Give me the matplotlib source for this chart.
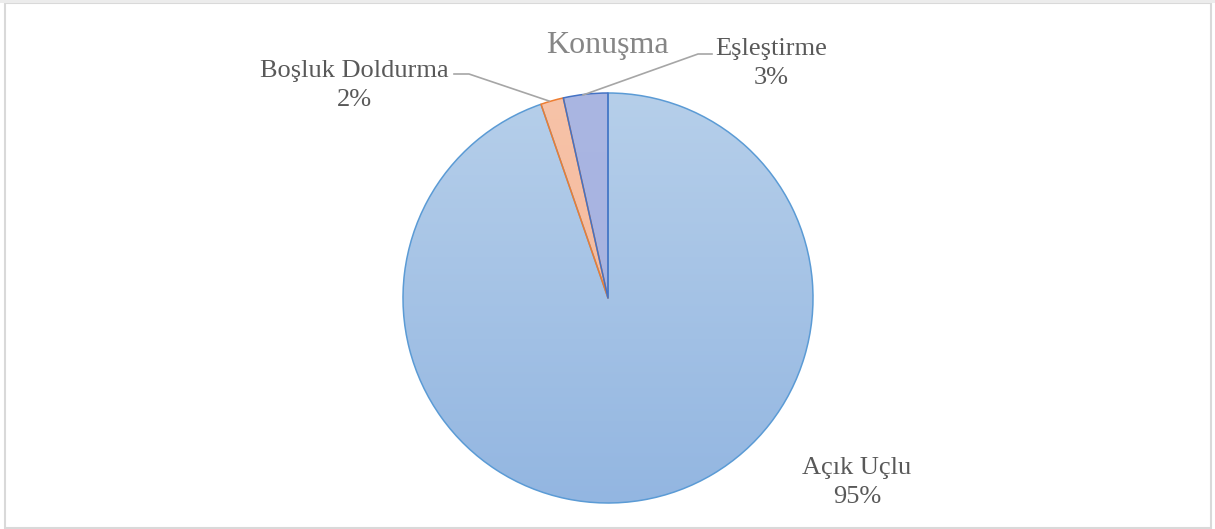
import matplotlib
matplotlib.use("Agg")
import matplotlib.pyplot as plt
import numpy as np
from matplotlib.colors import LinearSegmentedColormap
from matplotlib.patches import Rectangle

categories = ["Açık Uçlu", "Boşluk Doldurma", "Eşleştirme"]
values = [94.7, 1.8, 3.5]
pct_labels = ["95%", "2%", "3%"]
title = "Konuşma"

W, H = 1215, 529
fig = plt.figure(figsize=(W / 100, H / 100), dpi=100)
ax = fig.add_axes([0, 0, 1, 1])

def Y(py):
    return H - py

cx, cy, r = 608, Y(298), 205
edge_cols = ["#5b9bd5", "#ed7d31", "#4472c4"]
grads = [("#b6cfea", "#93b6e1"), ("#f7c3a8", "#f4b395"), ("#aab6e2", "#a3afdf")]

wedges, _ = ax.pie(values, startangle=90, counterclock=False, center=(cx, cy),
                   radius=r, frame=True,
                   wedgeprops=dict(linewidth=1.1, joinstyle="round"))
for w, ec, (c1, c2) in zip(wedges, edge_cols, grads):
    w.set_facecolor("none")
    w.set_edgecolor(ec)
    w.set_zorder(3)
    cmap = LinearSegmentedColormap.from_list("g", [c2, c1])
    grad = np.linspace(0, 1, 256).reshape(-1, 1)
    im = ax.imshow(grad, extent=[cx - r, cx + r, cy - r, cy + r], origin="lower",
                   cmap=cmap, aspect="auto", zorder=2, interpolation="bilinear")
    im.set_clip_path(w)

ax.set_xlim(0, W)
ax.set_ylim(0, H)
ax.set_aspect("equal")
ax.axis("off")

font = "Liberation Serif"
lab_col = "#595959"
ax.text(607, Y(53), title, fontsize=23, color="#868686", family=font,
        ha="center", va="baseline")

label_pos = [(857, 474), (354, 77), (771, 55)]
for (lx, ly), cat, p in zip(label_pos, categories, pct_labels):
    ax.text(lx, Y(ly), cat, fontsize=19, color=lab_col, family=font,
            ha="center", va="baseline")
    ax.text(lx, Y(ly + 29), p, fontsize=19, color=lab_col, family=font,
            ha="center", va="baseline")

# leader lines
ax.plot([454, 469, 549], [Y(74), Y(74), Y(101)], color="#a6a6a6", lw=1.2, zorder=4)
ax.plot([712, 698, 583], [Y(54), Y(54), Y(95)], color="#a6a6a6", lw=1.2, zorder=4)

# chart border
ax.add_patch(Rectangle((5, Y(528)), 1206, 525, fill=False, edgecolor="#d9d9d9",
                       lw=1.5, zorder=1))
ax.add_patch(Rectangle((0, Y(3)), W, 3, facecolor="#ececec", edgecolor="none",
                       zorder=1))

fig.savefig("out.png", dpi=100)
